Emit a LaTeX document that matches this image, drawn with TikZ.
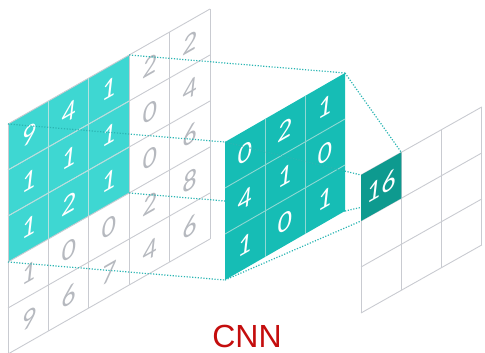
\documentclass[tikz,border=0pt]{standalone}
\usepackage{fontspec}
\setmainfont{Carlito}
\newfontfamily\titlefont{Liberation Sans}
\definecolor{gridgray}{HTML}{C9CBD1}
\definecolor{numgray}{HTML}{B6B9BF}
\definecolor{hlcyan}{HTML}{3ED7D2}
\definecolor{hlline}{HTML}{B4E2E0}
\definecolor{kerncol}{HTML}{16BDB5}
\definecolor{kernline}{HTML}{8FD8D3}
\definecolor{outcol}{HTML}{0E9A8F}
\definecolor{dotcol}{HTML}{2BB5B3}
\definecolor{titlered}{HTML}{C40D0D}
\begin{document}
\begin{tikzpicture}[x=1pt,y=-1pt,
  gridline/.style={draw=gridgray, line width=0.9pt},
  digit/.style={inner sep=0pt, yslant=0.57, font=\fontsize{28}{28}\selectfont\itshape},
  dotline/.style={draw=dotcol, line width=1.2pt, dash pattern=on 1.2pt off 1.6pt},
]
\useasboundingbox (0,0) rectangle (485,353);
\clip (0,0) rectangle (485,353);

% ---------------- input 5x5 ----------------
\begin{scope}[shift={(8pt,-124pt)}, x={(40.4pt,23pt)}, y={(0pt,-46pt)}]
  \fill[hlcyan] (0,0) -- (3,0) -- (3,3) -- (0,3) -- cycle;
  \foreach \i in {0,...,5} {
    \draw[gridline] (\i,0) -- (\i,5);
    \draw[gridline] (0,\i) -- (5,\i);
  }
  \foreach \i in {1,2} {
    \draw[draw=hlline, line width=0.9pt] (\i,0) -- (\i,3);
    \draw[draw=hlline, line width=0.9pt] (0,\i) -- (3,\i);
  }
  \coordinate (hTL) at (0,0);
  \coordinate (hTR) at (3,0);
  \coordinate (hBL) at (0,3);
  \coordinate (hBR) at (3,3);
  \foreach \row [count=\r from 0] in {{9,4,1,2,2},{1,1,1,0,4},{1,2,1,0,6},{1,0,0,2,8},{9,6,7,4,6}} {
    \foreach \v [count=\c from 0] in \row {
      \pgfmathtruncatemacro\isHi{and(\r<3,\c<3)}
      \ifnum\isHi=1 \def\tc{white}\else\def\tc{numgray}\fi
      \node[digit, text=\tc] (in-\r-\c) at (\c+0.5,\r+0.5) {\v};
    }
  }
\end{scope}

% ---------------- kernel corners ----------------
\begin{scope}[shift={(225pt,-142pt)}, x={(40pt,23pt)}, y={(0pt,-46pt)}]
  \coordinate (kTL) at (0,0);
  \coordinate (kTR) at (3,0);
  \coordinate (kBL) at (0,3);
  \coordinate (kBR) at (3,3);
\end{scope}

% dotted lines input -> kernel
\draw[dotline] (hTL) -- (kTL);
\draw[dotline] (hTR) -- (kTR);
\draw[dotline] (hBL) -- (kBL);
\draw[dotline] (hBR) -- (kBR);

% ---------------- kernel 3x3 ----------------
\begin{scope}[shift={(225pt,-142pt)}, x={(40pt,23pt)}, y={(0pt,-46pt)}]
  \fill[kerncol] (0,0) -- (3,0) -- (3,3) -- (0,3) -- cycle;
  \foreach \i in {1,2} {
    \draw[draw=kernline, line width=0.9pt] (\i,0) -- (\i,3);
    \draw[draw=kernline, line width=0.9pt] (0,\i) -- (3,\i);
  }
  \foreach \row [count=\r from 0] in {{0,2,1},{4,1,0},{1,0,1}} {
    \foreach \v [count=\c from 0] in \row {
      \node[digit, text=white] (k-\r-\c) at (\c+0.5,\r+0.5) {\v};
    }
  }
\end{scope}

% ---------------- output corners ----------------
\begin{scope}[shift={(361pt,-175pt)}, x={(40.3pt,22.7pt)}, y={(0pt,-46pt)}]
  \coordinate (oTL) at (0,0);
  \coordinate (oTR) at (1,0);
  \coordinate (oBL) at (0,1);
  \coordinate (oBR) at (1,1);
\end{scope}

% dotted lines kernel -> output
\draw[dotline] (kTL) -- (oTL);
\draw[dotline] (kTR) -- (oTR);
\draw[dotline] (kBL) -- (oBL);
\draw[dotline] (kBR) -- (oBR);

% ---------------- output 3x3 ----------------
\begin{scope}[shift={(361pt,-175pt)}, x={(40.3pt,22.7pt)}, y={(0pt,-46pt)}]
  \foreach \i in {0,...,3} {
    \draw[gridline] (\i,0) -- (\i,3);
    \draw[gridline] (0,\i) -- (3,\i);
  }
  \fill[outcol] (0,0) -- (1,0) -- (1,1) -- (0,1) -- cycle;
  \node[digit, text=white] (out) at (0.5,0.5) {16};
\end{scope}

% ---------------- title ----------------
\node[anchor=base, inner sep=0pt, text=titlered, font=\titlefont\fontsize{32}{32}\selectfont] (title) at (247,347) {CNN};
\end{tikzpicture}
\end{document}
